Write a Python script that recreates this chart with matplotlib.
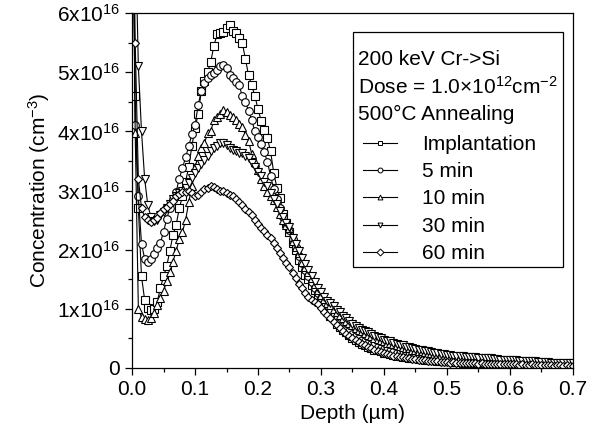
import numpy as np
import matplotlib
matplotlib.use("Agg")
import matplotlib.pyplot as plt
from matplotlib.lines import Line2D
from matplotlib.patches import Rectangle
from matplotlib.ticker import MultipleLocator, FuncFormatter

plt.rcParams['font.family'] = ['Liberation Sans', 'DejaVu Sans']
plt.rcParams['mathtext.fontset'] = 'custom'
plt.rcParams['mathtext.rm'] = 'Liberation Sans'
plt.rcParams['mathtext.it'] = 'Liberation Sans:italic'
plt.rcParams['mathtext.bf'] = 'Liberation Sans:bold'

# depth grid (um), one profile point every 5 nm
depth = np.linspace(0.0, 0.7, 141)

# concentrations in units of 1e16 cm^-3
implantation = [
    9.5, 4.6, 2.7, 1.55, 1.15, 1.02, 0.98, 1.00, 1.12, 1.35,
    1.55, 1.72, 1.98, 2.25, 2.42, 2.7, 2.9, 3.15, 3.4, 3.75,
    4.05, 4.3, 4.68, 4.85, 5.0, 5.18, 5.45, 5.64, 5.66, 5.68,
    5.74, 5.8, 5.7, 5.66, 5.58, 5.5, 5.22, 4.95, 4.78, 4.6,
    4.38, 4.18, 4.02, 3.88, 3.66, 3.3, 3.05, 2.88, 2.6, 2.45,
    2.3, 2.12, 2.0, 1.82, 1.7, 1.58, 1.5, 1.4, 1.32, 1.2,
    1.12, 1.02, 0.96, 0.88, 0.84, 0.74, 0.7, 0.64, 0.6, 0.55,
    0.5, 0.47, 0.44, 0.41, 0.38, 0.36, 0.33, 0.31, 0.3, 0.28,
    0.26, 0.25, 0.23, 0.22, 0.21, 0.2, 0.19, 0.18, 0.17, 0.17,
    0.16, 0.15, 0.15, 0.14, 0.14, 0.13, 0.13, 0.12, 0.12, 0.11,
    0.11, 0.11, 0.1, 0.1, 0.1, 0.09, 0.1, 0.09, 0.09, 0.09,
    0.08, 0.09, 0.08, 0.08, 0.08, 0.08, 0.07, 0.08, 0.07, 0.07,
    0.07, 0.07, 0.07, 0.06, 0.07, 0.06, 0.06, 0.07, 0.06, 0.06,
    0.06, 0.06, 0.05, 0.06, 0.06, 0.05, 0.06, 0.05, 0.05, 0.06,
    0.05]

min5 = [
    9.5, 4.1, 2.9, 2.1, 1.85, 1.79, 1.84, 1.92, 2.02, 2.12,
    2.3, 2.52, 2.7, 2.86, 2.98, 3.2, 3.38, 3.56, 3.75, 3.95,
    4.1, 4.45, 4.68, 4.82, 4.9, 4.95, 4.98, 5.03, 5.1, 5.12,
    5.08, 4.96, 4.9, 4.84, 4.78, 4.6, 4.5, 4.35, 4.2, 4.0,
    3.9, 3.78, 3.65, 3.48, 3.25, 3.02, 2.86, 2.7, 2.55, 2.45,
    2.33, 2.18, 2.05, 1.9, 1.78, 1.65, 1.55, 1.45, 1.36, 1.26,
    1.18, 1.1, 1.02, 0.95, 0.88, 0.82, 0.76, 0.71, 0.66, 0.62,
    0.58, 0.54, 0.51, 0.48, 0.45, 0.42, 0.4, 0.38, 0.36, 0.34,
    0.32, 0.3, 0.29, 0.27, 0.26, 0.25, 0.24, 0.23, 0.22, 0.21,
    0.2, 0.19, 0.19, 0.18, 0.17, 0.17, 0.16, 0.16, 0.15, 0.15,
    0.14, 0.14, 0.13, 0.14, 0.13, 0.13, 0.12, 0.13, 0.12, 0.12,
    0.11, 0.12, 0.11, 0.11, 0.1, 0.11, 0.1, 0.1, 0.1, 0.09,
    0.1, 0.09, 0.09, 0.09, 0.08, 0.09, 0.08, 0.08, 0.08, 0.08,
    0.07, 0.08, 0.07, 0.07, 0.07, 0.07, 0.06, 0.07, 0.06, 0.06,
    0.06]

min10 = [
    9.5, 3.97, 1.0, 0.86, 0.82, 0.81, 0.85, 0.93, 1.06, 1.18,
    1.3, 1.47, 1.62, 1.8, 1.98, 2.18, 2.3, 2.5, 2.8, 3.08,
    3.4, 3.58, 3.72, 3.8, 3.97, 4.0, 4.2, 4.25, 4.3, 4.36,
    4.32, 4.28, 4.24, 4.2, 4.12, 4.08, 3.94, 3.84, 3.62, 3.48,
    3.34, 3.2, 3.08, 2.98, 2.9, 2.84, 2.72, 2.6, 2.5, 2.42,
    2.36, 2.15, 2.05, 1.95, 1.8, 1.7, 1.62, 1.52, 1.42, 1.32,
    1.24, 1.16, 1.1, 1.06, 1.0, 0.95, 0.9, 0.84, 0.8, 0.76,
    0.72, 0.68, 0.65, 0.62, 0.59, 0.56, 0.54, 0.51, 0.49, 0.47,
    0.45, 0.43, 0.42, 0.4, 0.38, 0.37, 0.35, 0.34, 0.33, 0.31,
    0.3, 0.29, 0.28, 0.27, 0.26, 0.25, 0.24, 0.23, 0.22, 0.21,
    0.2, 0.2, 0.19, 0.19, 0.18, 0.18, 0.17, 0.17, 0.16, 0.16,
    0.16, 0.15, 0.15, 0.14, 0.14, 0.14, 0.13, 0.13, 0.13, 0.12,
    0.12, 0.12, 0.11, 0.11, 0.11, 0.1, 0.1, 0.1, 0.1, 0.09,
    0.09, 0.09, 0.09, 0.08, 0.08, 0.08, 0.08, 0.07, 0.07, 0.07,
    0.07]

min30 = [
    9.5, 7.5, 5.1, 4.0, 3.2, 2.75, 2.56, 2.48, 2.5, 2.58,
    2.63, 2.7, 2.78, 2.85, 2.9, 2.96, 3.0, 3.04, 3.12, 3.22,
    3.3, 3.38, 3.45, 3.52, 3.58, 3.66, 3.72, 3.76, 3.8, 3.8,
    3.77, 3.72, 3.68, 3.66, 3.63, 3.63, 3.58, 3.55, 3.47, 3.4,
    3.32, 3.24, 3.14, 3.07, 2.95, 2.86, 2.78, 2.66, 2.55, 2.45,
    2.38, 2.2, 2.1, 1.98, 1.86, 1.75, 1.65, 1.56, 1.46, 1.36,
    1.28, 1.2, 1.14, 1.1, 1.04, 0.98, 0.94, 0.88, 0.84, 0.79,
    0.75, 0.71, 0.68, 0.65, 0.62, 0.6, 0.57, 0.54, 0.52, 0.5,
    0.48, 0.46, 0.45, 0.43, 0.41, 0.39, 0.38, 0.36, 0.35, 0.33,
    0.32, 0.31, 0.3, 0.29, 0.28, 0.27, 0.26, 0.25, 0.24, 0.23,
    0.22, 0.22, 0.21, 0.21, 0.2, 0.2, 0.19, 0.19, 0.18, 0.18,
    0.17, 0.17, 0.16, 0.16, 0.16, 0.15, 0.15, 0.14, 0.14, 0.14,
    0.13, 0.13, 0.13, 0.12, 0.12, 0.12, 0.11, 0.11, 0.11, 0.1,
    0.1, 0.1, 0.1, 0.09, 0.09, 0.09, 0.09, 0.08, 0.08, 0.08,
    0.08]

min60 = [
    9.5, 5.5, 3.2, 2.7, 2.55, 2.5, 2.47, 2.5, 2.54, 2.62,
    2.68, 2.72, 2.78, 2.82, 2.9, 2.94, 2.97, 2.98, 3.0, 2.96,
    2.9, 2.92, 2.97, 3.02, 3.05, 3.08, 3.06, 3.02, 3.0, 3.0,
    2.96, 2.93, 2.9, 2.85, 2.8, 2.75, 2.68, 2.63, 2.58, 2.5,
    2.44, 2.36, 2.32, 2.25, 2.2, 2.12, 2.03, 1.95, 1.86, 1.78,
    1.7, 1.6, 1.52, 1.42, 1.35, 1.26, 1.2, 1.15, 1.12, 1.08,
    1.02, 0.95, 0.9, 0.84, 0.78, 0.72, 0.67, 0.62, 0.58, 0.54,
    0.5, 0.47, 0.44, 0.41, 0.38, 0.35, 0.33, 0.31, 0.29, 0.27,
    0.25, 0.24, 0.22, 0.21, 0.2, 0.19, 0.18, 0.17, 0.16, 0.15,
    0.15, 0.14, 0.13, 0.13, 0.12, 0.12, 0.11, 0.11, 0.1, 0.1,
    0.1, 0.09, 0.1, 0.09, 0.09, 0.08, 0.09, 0.08, 0.08, 0.08,
    0.07, 0.08, 0.07, 0.07, 0.07, 0.07, 0.06, 0.07, 0.06, 0.06,
    0.06, 0.06, 0.06, 0.05, 0.06, 0.05, 0.05, 0.06, 0.05, 0.05,
    0.05, 0.05, 0.05, 0.05, 0.04, 0.05, 0.05, 0.04, 0.05, 0.04,
    0.04]

labels = ['Implantation', '5 min', '10 min', '30 min', '60 min']
series = [implantation, min5, min10, min30, min60]
markers = ['s', 'o', '^', 'v', 'D']
sizes = [5.5, 5.5, 6, 6, 4.5]

header = ['200 keV Cr->Si',
          'Dose = 1.0\u00d710$^{12}$cm$^{-2}$',
          '500\u00b0C Annealing']

fig = plt.figure(figsize=(6.03, 4.37), dpi=100)
ax = fig.add_axes([0.219, 0.158, 0.731, 0.812])

for vals, m, s in zip(series, markers, sizes):
    ax.plot(depth, vals, color='black', lw=0.8, marker=m, markersize=s,
            markerfacecolor='white', markeredgecolor='black', markeredgewidth=0.8)

ax.set_xlim(0, 0.7)
ax.set_ylim(0, 6)
ax.xaxis.set_major_locator(MultipleLocator(0.1))
ax.xaxis.set_minor_locator(MultipleLocator(0.05))
ax.yaxis.set_major_locator(MultipleLocator(1))
ax.yaxis.set_minor_locator(MultipleLocator(0.5))
ax.xaxis.set_major_formatter(FuncFormatter(lambda v, p: f'{v:.1f}'))
ax.yaxis.set_major_formatter(FuncFormatter(
    lambda v, p: '0' if abs(v) < 1e-9 else f'{int(round(v))}x10$^{{16}}$'))
ax.tick_params(which='major', direction='out', length=5, width=0.9, labelsize=15)
ax.tick_params(which='minor', direction='out', length=3, width=0.9)
for sp in ax.spines.values():
    sp.set_linewidth(0.9)

ax.set_xlabel('Depth (\u00b5m)', fontsize=15)
ax.set_ylabel('Concentration (cm$^{-3}$)', fontsize=15)

# legend box with the header lines
ax.add_patch(Rectangle((0.501, 0.2845), 0.476, 0.6615, transform=ax.transAxes,
                       fill=False, lw=0.9, edgecolor='black', zorder=5))
for txt, yy in zip(header, [0.868, 0.792, 0.713]):
    ax.text(0.512, yy, txt, transform=ax.transAxes, fontsize=15,
            va='center', ha='left', zorder=6)

handles = [Line2D([], [], color='black', lw=0.8, marker=m, markersize=3.5,
                  markerfacecolor='white', markeredgecolor='black',
                  markeredgewidth=0.7) for m in markers]
ax.legend(handles, labels, loc='upper left', bbox_to_anchor=(0.525, 0.657),
          frameon=False, fontsize=15, borderpad=0, borderaxespad=0,
          handlelength=1.6, handletextpad=1.2, labelspacing=0.4)

fig.savefig('out.png', dpi=100)
